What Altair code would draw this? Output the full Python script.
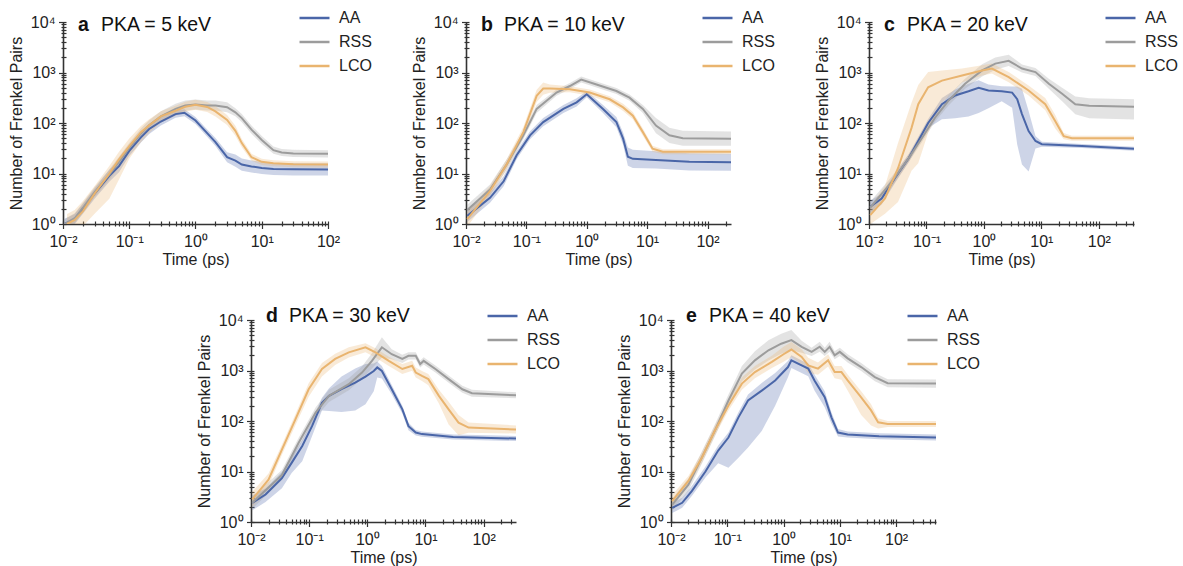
import altair as alt
import pandas as pd

SERIES = ["AA", "RSS", "LCO"]
COLORS = ["#4a66a8", "#9c9c9c", "#e9b46f"]
FONT = "Liberation Sans"
AXC = "#333333"
TXT = "#222222"

# ---------------- panel a : PKA = 5 keV ----------------
A_AA_T = [0.0105, 0.015, 0.02, 0.03, 0.05, 0.07, 0.1, 0.15, 0.2, 0.3, 0.5, 0.68, 1.0, 1.5, 2.0, 3.0, 4.0, 5.0, 7.0, 10, 15, 30, 100]
A_AA_N = [1.0, 1.25, 2.0, 4.0, 9, 14, 28, 52, 76, 107, 150, 160, 112, 63, 42, 21, 18, 15, 13.8, 12.9, 12.3, 12.1, 12]
A_AA_E = [0.1, 0.1, 0.1, 0.1, 0.12, 0.12, 0.1, 0.1, 0.1, 0.08, 0.07, 0.07, 0.07, 0.07, 0.08, 0.1, 0.12, 0.12, 0.12, 0.12, 0.12, 0.12, 0.12]

A_RSS_T = [0.0105, 0.015, 0.02, 0.03, 0.05, 0.07, 0.1, 0.15, 0.2, 0.3, 0.5, 0.7, 1.0, 1.5, 2.0, 3.0, 4.0, 5.0, 7.0, 10, 15, 20, 30, 100]
A_RSS_N = [1.0, 1.3, 2.1, 4.3, 9.5, 17, 32, 62, 90, 135, 190, 222, 232, 222, 222, 205, 163, 125, 74, 46, 29, 26, 25, 24.5]
A_RSS_E = [0.1, 0.1, 0.1, 0.1, 0.1, 0.1, 0.1, 0.1, 0.1, 0.1, 0.1, 0.1, 0.1, 0.1, 0.1, 0.1, 0.08, 0.08, 0.08, 0.08, 0.07, 0.07, 0.07, 0.07]

A_LCO_T = [0.0115, 0.015, 0.02, 0.03, 0.05, 0.07, 0.1, 0.15, 0.2, 0.3, 0.5, 0.7, 1.0, 1.5, 2.0, 3.0, 4.0, 5.0, 7.0, 10, 15, 30, 100]
A_LCO_N = [1.0, 1.2, 1.8, 4.0, 10, 19, 35, 66, 90, 135, 175, 210, 230, 208, 170, 115, 70, 40, 21, 17, 16, 15.3, 15]
A_LCO_LO = [0.2, 0.25, 0.3, 0.4, 0.5, 0.4, 0.25, 0.2, 0.15, 0.12, 0.1, 0.1, 0.1, 0.1, 0.1, 0.1, 0.1, 0.08, 0.07, 0.06, 0.06, 0.06, 0.06]
A_LCO_HI = [0.2, 0.2, 0.2, 0.15, 0.15, 0.15, 0.15, 0.12, 0.12, 0.1, 0.1, 0.1, 0.1, 0.1, 0.1, 0.1, 0.1, 0.08, 0.07, 0.06, 0.06, 0.06, 0.06]

# ---------------- panel b : PKA = 10 keV ----------------
B_AA_T = [0.0105, 0.025, 0.042, 0.069, 0.115, 0.19, 0.41, 0.68, 1.0, 1.86, 3.1, 4.0, 4.8, 5.8, 14, 50, 245]
B_AA_N = [1.45, 3.3, 7, 23, 57, 104, 190, 256, 370, 190, 104, 49, 21.5, 19.5, 18.6, 17, 16.7]
B_AA_E = [0.12, 0.1, 0.1, 0.08, 0.08, 0.08, 0.08, 0.08, 0.06, 0.08, 0.1, 0.12, 0.18, 0.18, 0.17, 0.17, 0.17]

B_RSS_T = [0.0105, 0.025, 0.047, 0.089, 0.148, 0.316, 0.525, 0.81, 1.45, 3.1, 5.1, 8.5, 14, 23.4, 39, 245]
B_RSS_N = [1.9, 4.8, 15, 57, 190, 400, 540, 725, 580, 430, 318, 190, 89, 57, 50, 49]
B_RSS_E = [0.1, 0.1, 0.1, 0.08, 0.08, 0.06, 0.06, 0.06, 0.06, 0.06, 0.06, 0.08, 0.15, 0.15, 0.15, 0.14]

B_LCO_T = [0.0105, 0.025, 0.047, 0.089, 0.148, 0.19, 0.245, 0.525, 1.12, 2.4, 4.0, 5.8, 8.5, 12.3, 18.2, 245]
B_LCO_N = [1.25, 4.5, 15, 66, 345, 480, 480, 465, 400, 295, 204, 140, 66, 31, 27, 27]
B_LCO_E = [0.15, 0.1, 0.1, 0.1, 0.12, 0.12, 0.08, 0.06, 0.06, 0.06, 0.07, 0.07, 0.07, 0.06, 0.05, 0.05]

# ---------------- panel c : PKA = 20 keV ----------------
C_AA_T = [0.0105, 0.0166, 0.028, 0.049, 0.107, 0.186, 0.316, 0.54, 0.81, 1.2, 2.04, 3.1, 3.8, 4.6, 6.0, 7.9, 10.2, 51, 410]
C_AA_N = [2.2, 3.2, 8, 20, 100, 236, 350, 425, 500, 440, 425, 400, 297, 150, 69, 44, 38, 35, 31]
C_AA_LO = [0.12, 0.12, 0.1, 0.08, 0.1, 0.3, 0.45, 0.5, 0.5, 0.35, 0.2, 0.3, 0.9, 1.0, 0.8, 0.15, 0.05, 0.04, 0.04]
C_AA_HI = [0.12, 0.1, 0.08, 0.08, 0.08, 0.12, 0.12, 0.15, 0.15, 0.12, 0.1, 0.12, 0.25, 0.5, 0.4, 0.1, 0.05, 0.04, 0.04]

C_RSS_T = [0.0105, 0.025, 0.049, 0.083, 0.141, 0.24, 0.47, 0.93, 1.58, 2.7, 4.6, 7.9, 13.5, 23, 39, 68, 410]
C_RSS_N = [2.1, 6.9, 20, 50, 127, 275, 600, 1100, 1500, 1700, 1200, 1020, 600, 380, 236, 220, 209]
C_RSS_LO = [0.12, 0.1, 0.08, 0.08, 0.08, 0.1, 0.1, 0.12, 0.12, 0.1, 0.08, 0.08, 0.1, 0.15, 0.2, 0.25, 0.25]
C_RSS_HI = [0.12, 0.1, 0.08, 0.08, 0.08, 0.1, 0.1, 0.12, 0.12, 0.12, 0.08, 0.08, 0.1, 0.12, 0.15, 0.15, 0.15]

C_LCO_T = [0.0105, 0.019, 0.032, 0.055, 0.072, 0.107, 0.186, 0.417, 0.93, 1.38, 2.7, 6.0, 11.7, 17.4, 24.5, 34, 410]
C_LCO_N = [1.5, 3.2, 12.7, 80, 236, 510, 690, 870, 1100, 1200, 810, 440, 236, 110, 55, 50, 50]
C_LCO_LO = [0.18, 0.3, 0.67, 0.85, 1.17, 0.9, 0.44, 0.14, 0.1, 0.1, 0.1, 0.1, 0.12, 0.15, 0.06, 0.05, 0.05]
C_LCO_HI = [0.17, 0.25, 0.5, 0.5, 0.38, 0.3, 0.2, 0.14, 0.1, 0.1, 0.1, 0.1, 0.12, 0.12, 0.06, 0.05, 0.05]

# ---------------- panel d : PKA = 30 keV ----------------
D_AA_T = [0.0105, 0.0178, 0.034, 0.05, 0.076, 0.112, 0.166, 0.22, 0.36, 0.62, 0.93, 1.29, 1.48, 1.78, 2.63, 4.0, 5.1, 6.8, 8.7, 30, 360]
D_AA_N = [2.4, 3.5, 7.4, 14.8, 32, 79, 229, 316, 427, 575, 759, 977, 1150, 977, 427, 170, 79, 59, 55, 48, 45]
D_AA_LO = [0.15, 0.15, 0.2, 0.2, 0.3, 0.2, 0.15, 0.3, 0.45, 0.55, 0.55, 0.4, 0.2, 0.15, 0.1, 0.08, 0.08, 0.06, 0.05, 0.05, 0.05]
D_AA_HI = [0.15, 0.12, 0.12, 0.12, 0.12, 0.12, 0.1, 0.15, 0.25, 0.28, 0.25, 0.15, 0.12, 0.1, 0.08, 0.07, 0.07, 0.05, 0.05, 0.05, 0.05]

D_RSS_T = [0.0105, 0.034, 0.066, 0.129, 0.219, 0.48, 0.81, 1.2, 1.78, 2.63, 4.0, 5.1, 6.8, 8.1, 9.3, 14.8, 25, 43, 63, 360]
D_RSS_N = [2.4, 8.5, 37, 147, 315, 535, 910, 1550, 2880, 2100, 1700, 1950, 1950, 1340, 1550, 1070, 675, 425, 355, 323]
D_RSS_E = [0.12, 0.1, 0.1, 0.1, 0.12, 0.12, 0.12, 0.15, 0.2, 0.1, 0.08, 0.07, 0.07, 0.07, 0.07, 0.07, 0.07, 0.07, 0.07, 0.06]

D_LCO_T = [0.0105, 0.02, 0.034, 0.058, 0.098, 0.166, 0.28, 0.48, 0.93, 1.38, 2.34, 4.0, 5.9, 6.8, 8.7, 11.2, 17, 25, 37, 55, 360]
D_LCO_N = [2.8, 6.9, 27, 108, 425, 1070, 1700, 2290, 2880, 2290, 1550, 1070, 1240, 910, 780, 675, 315, 170, 93, 74, 68]
D_LCO_LO = [0.15, 0.12, 0.1, 0.12, 0.15, 0.15, 0.12, 0.1, 0.1, 0.1, 0.1, 0.1, 0.1, 0.1, 0.1, 0.12, 0.15, 0.3, 0.25, 0.1, 0.08]
D_LCO_HI = [0.15, 0.12, 0.1, 0.1, 0.12, 0.12, 0.1, 0.1, 0.08, 0.08, 0.08, 0.1, 0.1, 0.1, 0.1, 0.1, 0.12, 0.15, 0.15, 0.1, 0.08]

# ---------------- panel e : PKA = 40 keV ----------------
E_AA_T = [0.0105, 0.0158, 0.0234, 0.041, 0.069, 0.105, 0.158, 0.234, 0.41, 0.71, 1.2, 1.38, 2.1, 2.75, 3.55, 5.4, 7.1, 9.3, 13.8, 50, 513]
E_AA_N = [1.9, 2.4, 4.1, 10, 26, 47, 118, 255, 400, 635, 1170, 1590, 1260, 1090, 635, 295, 118, 59, 54, 50, 47]
E_AA_LO = [0.1, 0.1, 0.1, 0.12, 0.25, 0.6, 0.8, 0.93, 0.8, 0.5, 0.2, 0.15, 0.15, 0.15, 0.2, 0.2, 0.12, 0.08, 0.06, 0.06, 0.06]
E_AA_HI = [0.1, 0.1, 0.1, 0.1, 0.1, 0.1, 0.1, 0.12, 0.15, 0.15, 0.12, 0.1, 0.1, 0.1, 0.12, 0.12, 0.1, 0.07, 0.06, 0.06, 0.06]

E_RSS_T = [0.0105, 0.0204, 0.0355, 0.06, 0.105, 0.182, 0.31, 0.54, 0.91, 1.38, 2.1, 3.16, 4.4, 5.4, 6.6, 8.1, 10, 13.8, 24, 42, 71, 513]
E_RSS_N = [2.2, 5.5, 19, 64, 255, 870, 1590, 2510, 3390, 4000, 2950, 2340, 2950, 2340, 2950, 2000, 2340, 1740, 1170, 740, 560, 550]
E_RSS_E = [0.12, 0.12, 0.12, 0.12, 0.12, 0.15, 0.18, 0.2, 0.2, 0.2, 0.12, 0.08, 0.1, 0.08, 0.1, 0.08, 0.08, 0.08, 0.08, 0.08, 0.08, 0.08]

E_LCO_T = [0.0105, 0.0204, 0.0355, 0.06, 0.105, 0.182, 0.31, 0.62, 1.0, 1.38, 2.1, 2.75, 4.1, 6.2, 8.1, 10.7, 13.8, 24, 36, 48, 71, 513]
E_LCO_N = [2.6, 6.5, 19, 64, 203, 550, 930, 1480, 2100, 2600, 1860, 1260, 1090, 1590, 930, 930, 635, 295, 162, 94, 87, 87]
E_LCO_LO = [0.12, 0.1, 0.1, 0.1, 0.1, 0.12, 0.12, 0.12, 0.15, 0.15, 0.15, 0.15, 0.12, 0.12, 0.12, 0.15, 0.2, 0.35, 0.3, 0.12, 0.06, 0.06]
E_LCO_HI = [0.12, 0.1, 0.1, 0.1, 0.1, 0.12, 0.12, 0.12, 0.15, 0.15, 0.15, 0.15, 0.12, 0.12, 0.12, 0.12, 0.12, 0.12, 0.12, 0.08, 0.06, 0.06]

PANELS = [
    ("a", "PKA = 5 keV", 100, {"AA": (A_AA_T, A_AA_N, A_AA_E, A_AA_E),
                               "RSS": (A_RSS_T, A_RSS_N, A_RSS_E, A_RSS_E),
                               "LCO": (A_LCO_T, A_LCO_N, A_LCO_LO, A_LCO_HI)}),
    ("b", "PKA = 10 keV", 245, {"AA": (B_AA_T, B_AA_N, B_AA_E, B_AA_E),
                                "RSS": (B_RSS_T, B_RSS_N, B_RSS_E, B_RSS_E),
                                "LCO": (B_LCO_T, B_LCO_N, B_LCO_E, B_LCO_E)}),
    ("c", "PKA = 20 keV", 410, {"AA": (C_AA_T, C_AA_N, C_AA_LO, C_AA_HI),
                                "RSS": (C_RSS_T, C_RSS_N, C_RSS_LO, C_RSS_HI),
                                "LCO": (C_LCO_T, C_LCO_N, C_LCO_LO, C_LCO_HI)}),
    ("d", "PKA = 30 keV", 360, {"AA": (D_AA_T, D_AA_N, D_AA_LO, D_AA_HI),
                                "RSS": (D_RSS_T, D_RSS_N, D_RSS_E, D_RSS_E),
                                "LCO": (D_LCO_T, D_LCO_N, D_LCO_LO, D_LCO_HI)}),
    ("e", "PKA = 40 keV", 513, {"AA": (E_AA_T, E_AA_N, E_AA_LO, E_AA_HI),
                                "RSS": (E_RSS_T, E_RSS_N, E_RSS_E, E_RSS_E),
                                "LCO": (E_LCO_T, E_LCO_N, E_LCO_LO, E_LCO_HI)}),
]

W, H = 265, 202
MAJOR = "abs(log(datum.value)/LN10 - round(log(datum.value)/LN10)) < 0.001"
X_LABELS = ("datum.value < 0.05 ? '10\u207b\u00b2' : datum.value < 0.5 ? '10\u207b\u00b9' : "
            "datum.value < 5 ? '10\u2070' : datum.value < 50 ? '10\u00b9' : '10\u00b2'")
Y_LABELS = ("datum.value < 5 ? '10\u2070' : datum.value < 50 ? '10\u00b9' : "
            "datum.value < 500 ? '10\u00b2' : datum.value < 5000 ? '10\u00b3' : '10\u2074'")
TICK_SIZE = {"condition": {"test": MAJOR, "value": 7.5}, "value": 5}


def make_df(series):
    rows = []
    for s in SERIES:
        t, n, lo, hi = series[s]
        for ti, ni, l, h in zip(t, n, lo, hi):
            rows.append({"series": s, "t": ti, "n": ni,
                         "lo": ni / 10 ** l, "hi": ni * 10 ** h})
    return pd.DataFrame(rows)


def panel(letter, label, xmax, series, title_y):
    df = make_df(series)
    xs = alt.Scale(type="log", domain=[0.01, xmax], nice=False)
    ys = alt.Scale(type="log", domain=[1, 10000], nice=False)
    cs = alt.Scale(domain=SERIES, range=COLORS)
    x_major = [v for v in [0.01, 0.1, 1, 10, 100] if v <= xmax]
    x_all = [k * 10.0 ** d for d in range(-2, 3) for k in range(1, 10) if k * 10.0 ** d <= xmax * 1.0001]
    y_major = [1, 10, 100, 1000, 10000]
    y_all = [k * 10.0 ** d for d in range(0, 4) for k in range(1, 10)] + [10000]

    x_main = alt.Axis(values=x_major, labelExpr=X_LABELS, ticks=False, tickSize=0, grid=False,
                      title="Time (ps)", labelFlush=False, labelPadding=9, titlePadding=2,
                      domainColor=AXC, domainWidth=1.6)
    x_ticks = alt.Axis(values=x_all, labels=False, domain=False, grid=False, title=None,
                       orient="bottom", offset=-3, tickSize=TICK_SIZE, tickColor=AXC, tickWidth=1.2)
    y_main = alt.Axis(values=y_major, labelExpr=Y_LABELS, ticks=False, tickSize=0, grid=False,
                      title="Number of Frenkel Pairs", labelFlush=False, labelPadding=8,
                      titlePadding=6, domainColor=AXC, domainWidth=1.6)
    y_ticks = alt.Axis(values=y_all, labels=False, domain=False, grid=False, title=None,
                       orient="left", offset=-3, tickSize=TICK_SIZE, tickColor=AXC, tickWidth=1.2)

    legend = alt.Legend(orient="none", legendX=W - 30, legendY=-12, title=None, direction="vertical",
                        symbolType="stroke", symbolSize=900, symbolStrokeWidth=2.5,
                        symbolOpacity=1, symbolFillColor="transparent",
                        labelFontSize=16, labelFont=FONT, labelColor=TXT, labelOffset=8,
                        clipHeight=16, rowPadding=8, padding=0)

    base = alt.Chart(df)
    band = base.mark_area(opacity=0.28, clip=True).encode(
        x=alt.X("t:Q", scale=xs, axis=x_main),
        y=alt.Y("lo:Q", scale=ys, axis=y_main, stack=False),
        y2="hi:Q",
        color=alt.Color("series:N", scale=cs, legend=legend),
    )
    line = base.mark_line(strokeWidth=2, clip=True).encode(
        x=alt.X("t:Q", scale=xs, axis=x_ticks),
        y=alt.Y("n:Q", scale=ys, axis=y_ticks),
        color=alt.Color("series:N", scale=cs, legend=legend),
    )
    tdf = pd.DataFrame({"k": [letter], "v": [label]})
    t1 = alt.Chart(tdf).mark_text(align="left", baseline="alphabetic", fontSize=19.5,
                                  fontWeight="bold", font=FONT, color="#111111").encode(
        x=alt.value(15), y=alt.value(title_y), text="k:N")
    t2 = alt.Chart(tdf).mark_text(align="left", baseline="alphabetic", fontSize=19.5,
                                  font=FONT, color="#111111").encode(
        x=alt.value(38), y=alt.value(title_y), text="v:N")
    return alt.layer(band, line, t1, t2).resolve_axis(
        x="independent", y="independent").properties(width=W, height=H)


charts = []
for i, (letter, label, xmax, series) in enumerate(PANELS):
    charts.append(panel(letter, label, xmax, series, 9 if i < 3 else 2))

spacer = alt.Chart(pd.DataFrame({"v": [0]})).mark_point(opacity=0).properties(width=33, height=H)

top = alt.hconcat(charts[0], charts[1], charts[2], spacing=138, bounds="flush").resolve_scale(
    color="independent").resolve_legend(color="independent")
bottom = alt.hconcat(spacer, charts[3], charts[4], spacing=155, bounds="flush").resolve_scale(
    color="independent").resolve_legend(color="independent")

chart = alt.vconcat(top, bottom, spacing=H + 96, bounds="flush").resolve_scale(
    color="independent").resolve_legend(color="independent").properties(
    padding={"left": 8, "top": 10, "right": 4, "bottom": 4}
).configure(font=FONT).configure_view(strokeWidth=0).configure_axis(
    labelFont=FONT, titleFont=FONT, labelFontSize=16, titleFontSize=16,
    titleFontWeight="normal", labelColor=TXT, titleColor=TXT
)

chart.save("out.html", embed_options={"renderer": "svg", "actions": False})
